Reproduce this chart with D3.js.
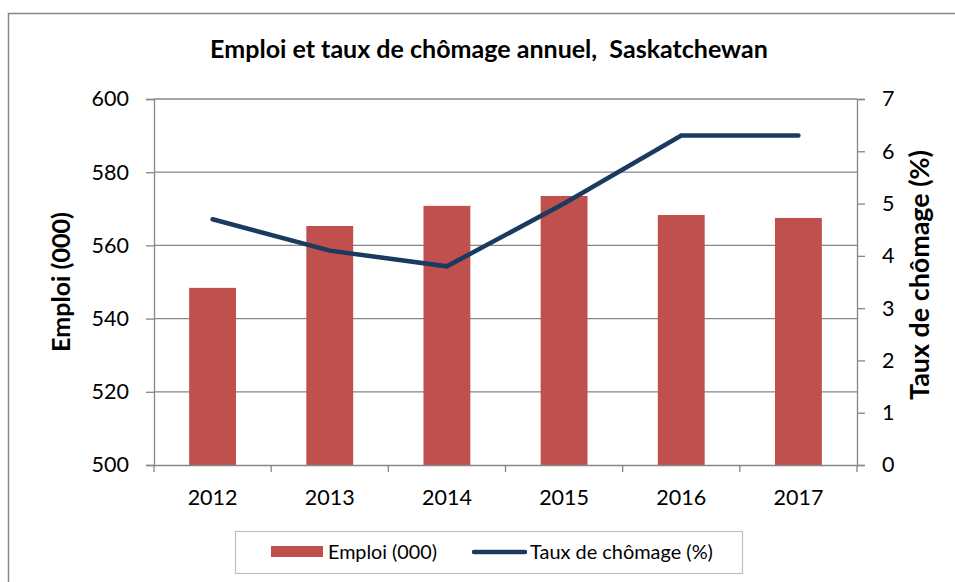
<!DOCTYPE html>
<html><head><meta charset="utf-8">
<script src="https://cdn.jsdelivr.net/npm/d3@7"></script>
<style>body{margin:0;background:#fff}svg{display:block;font-family:Lato,"Open Sans",sans-serif}</style>
</head><body>
<svg id="c" width="955" height="582"></svg>
<script>
const years = ["2012","2013","2014","2015","2016","2017"];
const emploi = [548.4, 565.3, 570.8, 573.5, 568.3, 567.5];
const chomage = [4.7, 4.1, 3.8, 5.0, 6.3, 6.3];
const leftTicks = [500,520,540,560,580,600];
const rightTicks = [0,1,2,3,4,5,6,7];

const svg = d3.select("#c");
const m={l:154,r:857,t:99,b:465};
const gray="#868686";
function fit(sel, target){
  const n=sel.node(); const fs=parseFloat(sel.style("font-size"));
  const w=n.getComputedTextLength(); sel.style("font-size",(fs*target/w).toFixed(2)+"px");
  return sel;
}

svg.append("rect").attr("x",8.5).attr("y",13.5).attr("width",960).attr("height",600)
  .attr("fill","#fff").attr("stroke",gray).attr("stroke-width",1.5);

const x=d3.scaleBand().domain(years).range([m.l,m.r]).paddingInner(0.6).paddingOuter(0.3);
const xb=d3.scaleBand().domain(years).range([m.l,m.r]);
const yL=d3.scaleLinear().domain([500,600]).range([m.b,m.t]);
const yR=d3.scaleLinear().domain([0,7]).range([m.b,m.t]);

svg.append("g").selectAll("line").data(leftTicks.slice(1)).join("line")
  .attr("x1",m.l).attr("x2",m.r).attr("y1",d=>yL(d)).attr("y2",d=>yL(d))
  .attr("stroke",gray).attr("stroke-width",1.3);

svg.append("g").selectAll("rect").data(years).join("rect")
  .attr("x",d=>x(d)).attr("width",x.bandwidth())
  .attr("y",(d,i)=>yL(emploi[i])).attr("height",(d,i)=>m.b-yL(emploi[i]))
  .attr("fill","#C0504D");

const gL=svg.append("g").attr("transform",`translate(${m.l},0)`)
  .call(d3.axisLeft(yL).tickValues(leftTicks).tickSize(8).tickPadding(17));
const gR=svg.append("g").attr("transform",`translate(${m.r},0)`)
  .call(d3.axisRight(yR).tickValues(rightTicks).tickFormat(d3.format("d")).tickSize(8).tickPadding(17));
const gX=svg.append("g").attr("transform",`translate(0,${m.b})`)
  .call(d3.axisBottom(xb).tickSize(0).tickPadding(25));
svg.append("g").selectAll("line").data(years.concat(["end"])).join("line")
  .attr("x1",(d,i)=>m.l+i*xb.bandwidth()).attr("x2",(d,i)=>m.l+i*xb.bandwidth())
  .attr("y1",m.b).attr("y2",m.b+7).attr("stroke",gray).attr("stroke-width",1.3);
[gL,gR,gX].forEach(g=>{
  g.selectAll(".domain").attr("stroke",gray).attr("stroke-width",1.3);
  g.selectAll(".tick line").attr("stroke",gray).attr("stroke-width",1.3);
  g.selectAll("text").attr("fill","#000").style("font-size","21.5px").style("font-family","Lato, 'Open Sans', sans-serif");
});
gX.selectAll(".tick text").attr("dy","0.71em");

const line=d3.line().x((d,i)=>xb(years[i])+xb.bandwidth()/2).y(d=>yR(d));
svg.append("path").datum(chomage).attr("d",line).attr("fill","none")
  .attr("stroke","#1A3A60").attr("stroke-width",4.5).attr("stroke-linecap","round").attr("stroke-linejoin","miter");

fit(svg.append("text").attr("x",489).attr("y",58).attr("text-anchor","middle").style("white-space","pre")
  .style("font-size","20px").style("font-weight","bold").text("Emploi et taux de chômage annuel,  Saskatchewan"),558);
fit(svg.append("text").attr("transform","translate(70,282) rotate(-90)").attr("text-anchor","middle")
  .style("font-size","20px").style("font-weight","bold").text("Emploi (000)"),140);
fit(svg.append("text").attr("transform","translate(929,275) rotate(-90)").attr("text-anchor","middle")
  .style("font-size","20px").style("font-weight","bold").text("Taux de chômage (%)"),250);

const lg=svg.append("g");
lg.append("rect").attr("x",235.5).attr("y",531.5).attr("width",507).attr("height",42)
  .attr("fill","#fff").attr("stroke","#bfbfbf").attr("stroke-width",1.2);
lg.append("rect").attr("x",271).attr("y",546).attr("width",52).attr("height",11).attr("fill","#C0504D");
fit(lg.append("text").attr("x",328).attr("y",559).style("font-size","16px").text("Emploi (000)"),109);
lg.append("line").attr("x1",474).attr("x2",525).attr("y1",552).attr("y2",552)
  .attr("stroke","#1A3A60").attr("stroke-width",4.5).attr("stroke-linecap","round");
fit(lg.append("text").attr("x",530).attr("y",559).style("font-size","16px").text("Taux de chômage (%)"),183);
</script>
</body></html>
